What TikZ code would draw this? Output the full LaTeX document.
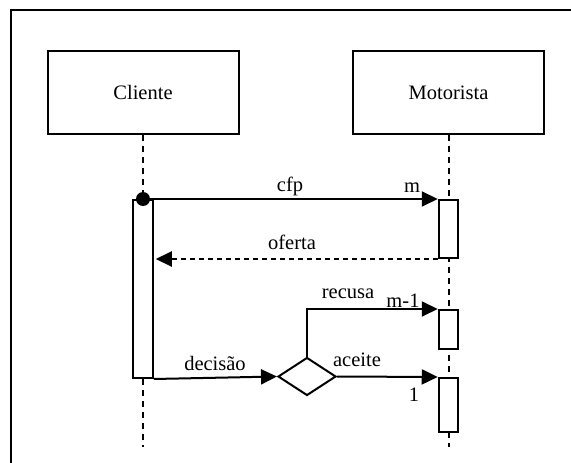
\documentclass[tikz,border=0pt]{standalone}
\usepackage{fontspec}
\setmainfont{Liberation Serif}
\usetikzlibrary{arrows.meta,shapes.geometric}
\begin{document}
\begin{tikzpicture}[x=1pt,y=-1pt,
  line width=2pt,
  every node/.style={font=\fontsize{20.5}{24}\selectfont, inner sep=0pt},
  actor/.style={draw, fill=white, minimum width=191pt, minimum height=83pt},
  actbar/.style={draw, fill=white, minimum width=19.5pt, anchor=north},
  lifeline/.style={dash pattern=on 6pt off 5pt},
  msg/.style={-{Triangle[length=16pt,width=15pt]}},
  reply/.style={msg, dash pattern=on 5pt off 4pt},
  decide/.style={diamond, draw, fill=white, minimum width=58pt, minimum height=38pt, inner sep=0pt}]
  \useasboundingbox (0,0) rectangle (571,463);

  % frame
  \draw[line width=2.5pt] (11,463) -- (11,10) -- (571,10);

  % participants
  \node[actor] (cli) at (143,92.5) {Cliente};
  \node[actor] (mot) at (448.5,92.5) {Motorista};

  % Motorista lifeline
  \coordinate (motend) at (448.5,447);
  \draw[lifeline] (mot.south) -- (motend);

  % activation bars
  \node[actbar, minimum height=178pt] (cact) at (143,199) {};
  \node[actbar, minimum height=58pt] (m1) at (448.5,199) {};
  \node[actbar, minimum height=39pt] (m2) at (448.5,309) {};
  \node[actbar, minimum height=54pt] (m3) at (448.5,377) {};

  % Cliente lifeline
  \coordinate (cliend) at (143,447);
  \draw[lifeline] (cli.south) -- (cact.north);
  \draw[lifeline] (cact.south) -- (cliend);

  % decision
  \node[decide] (dec) at (307,376.5) {};

  % messages
  \draw[msg] (cact.north) -- (m1.north west);
  \fill (cact.north) circle (7pt);
  \draw[reply] (m1.south west) -- ([xshift=2pt]cact.east |- m1.south west);
  \draw[msg] (cact.south east) -- (dec.west);
  \draw[msg] (dec.north) |- (m2.north west);
  \draw[msg] (dec.east) -- (m3.north west);

  % labels
  \node (lcfp) at (290,186) {cfp};
  \node (lm) at (412,188) {m};
  \node (loferta) at (292,242) {oferta};
  \node (lrecusa) at (348,294) {recusa};
  \node (lm1) at (403,301) {m-1};
  \node (laceite) at (357,360) {aceite};
  \node (lone) at (414,395) {1};
  \node (ldecisao) at (215,363) {decisão};
\end{tikzpicture}
\end{document}
